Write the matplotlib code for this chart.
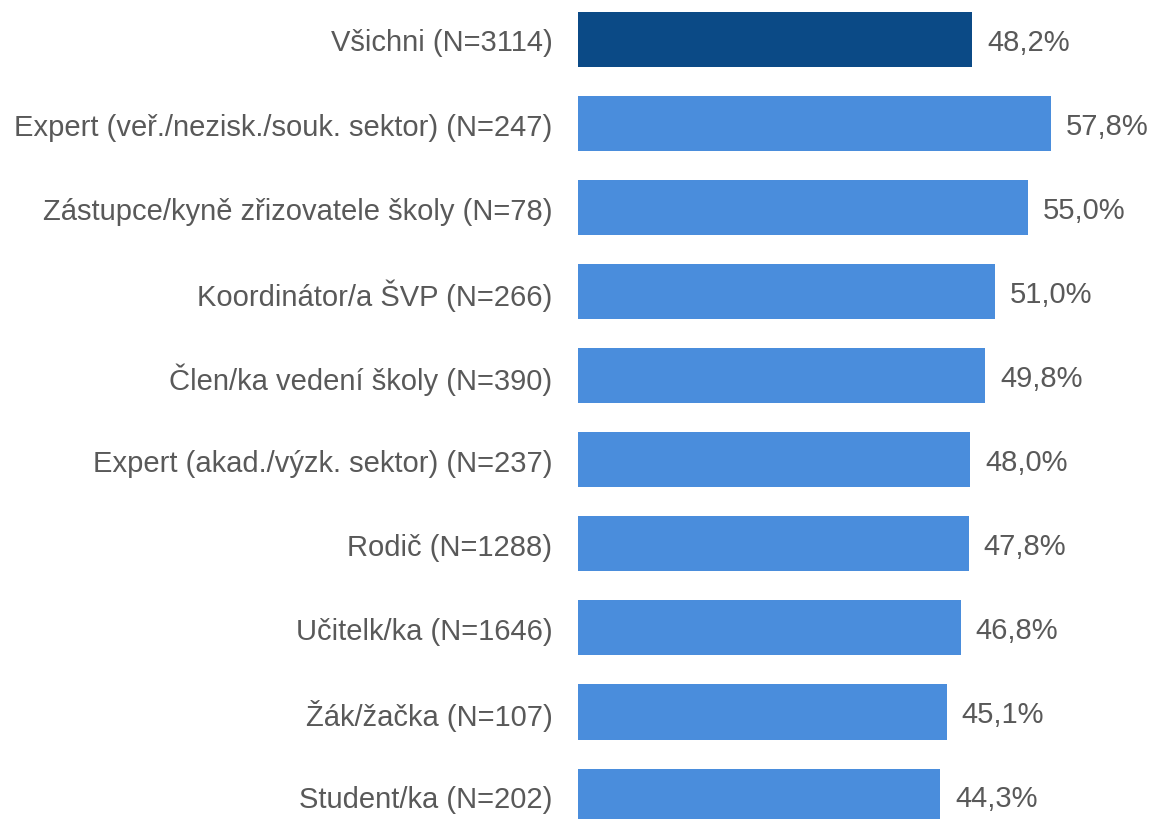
import matplotlib.pyplot as plt
from matplotlib.transforms import offset_copy

plt.rcParams['font.family'] = ['Liberation Sans', 'DejaVu Sans']

categories = ['Všichni (N=3114)',
              'Expert (veř./nezisk./souk. sektor) (N=247)',
              'Zástupce/kyně zřizovatele školy (N=78)',
              'Koordinátor/a ŠVP (N=266)',
              'Člen/ka vedení školy (N=390)',
              'Expert (akad./výzk. sektor) (N=237)',
              'Rodič (N=1288)',
              'Učitelk/ka (N=1646)',
              'Žák/žačka (N=107)',
              'Student/ka (N=202)']
values = [48.2, 57.8, 55.0, 51.0, 49.8, 48.0, 47.8, 46.8, 45.1, 44.3]
colors = ['#0b4a86'] + ['#4a8ddc'] * 9
text_color = '#595959'

fig = plt.figure(figsize=(11.52, 8.2), dpi=100)
ax = fig.add_axes([578 / 1152, 0, 1 - 578 / 1152, 1])

idx = list(range(len(values)))
ax.barh(idx, values, height=0.655, color=colors)
ax.set_xlim(0, 70.2)
ax.set_ylim(9.273, -0.482)

# value labels right of each bar
for i, v in zip(idx, values):
    ax.text(v, i, f'{v:.1f}%'.replace('.', ','),
            transform=offset_copy(ax.transData, fig=fig, x=15, y=-2, units='dots'),
            va='center', ha='left', fontsize=21, color=text_color)

ax.set_yticks(idx)
ax.set_yticklabels(categories, fontsize=21, color=text_color)
ax.tick_params(axis='y', length=0, pad=18.5)
# nudge category labels up a little to sit on bar centres
for lab in ax.get_yticklabels():
    lab.set_transform(lab.get_transform() + offset_copy(fig.dpi_scale_trans, fig=fig, x=0, y=2, units='dots') - fig.dpi_scale_trans)
ax.set_xticks([])
for s in ax.spines.values():
    s.set_visible(False)

fig.savefig('out.png', dpi=100)
